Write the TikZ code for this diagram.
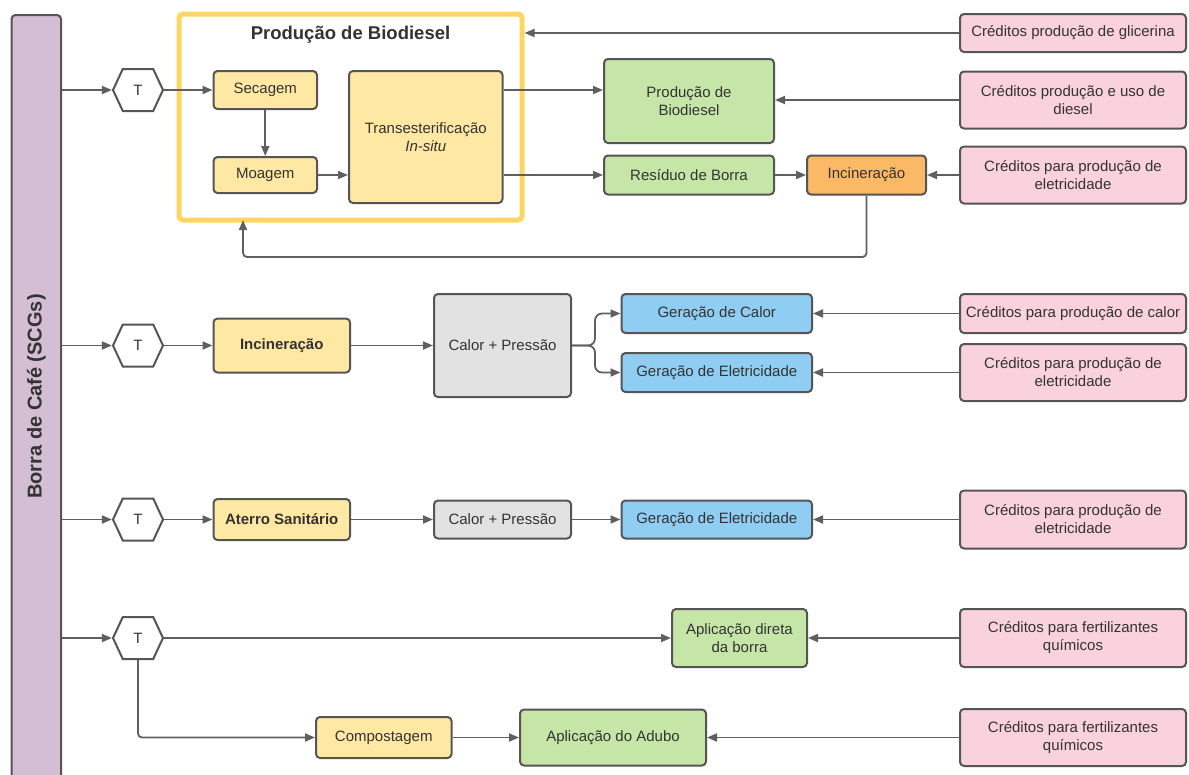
\documentclass[tikz,border=0pt]{standalone}
\usepackage{fontspec}
\setmainfont{Liberation Sans}
\usetikzlibrary{arrows.meta,shapes.symbols}
\definecolor{edgegray}{HTML}{555555}
\definecolor{linegray}{HTML}{5F5F5F}
\definecolor{txtgray}{HTML}{333333}
\definecolor{barpurple}{HTML}{D3BED3}
\definecolor{boxyellow}{HTML}{FFE8A3}
\definecolor{frameyellow}{HTML}{FDD662}
\definecolor{boxgreen}{HTML}{C6E6A8}
\definecolor{boxblue}{HTML}{8FCDF2}
\definecolor{boxgray}{HTML}{E2E2E2}
\definecolor{boxpink}{HTML}{F9D2DD}
\definecolor{boxorange}{HTML}{FBB865}
\begin{document}
\begin{tikzpicture}[x=1pt,y=-1pt,
  box/.style={draw=edgegray, line width=2pt, rounded corners=4pt, inner sep=0pt, align=center, text=txtgray, font=\fontsize{15}{18}\selectfont},
  ylw/.style={box, fill=boxyellow},
  grn/.style={box, fill=boxgreen},
  blu/.style={box, fill=boxblue},
  gry/.style={box, fill=boxgray},
  org/.style={box, fill=boxorange},
  pnk/.style={box, fill=boxpink, minimum width=226pt},
  hexa/.style={signal, signal to=east and west, signal pointer angle=130, draw=edgegray, line width=2pt, fill=white, minimum width=50pt, minimum height=42pt, inner sep=0pt, text=txtgray, font=\fontsize{15}{18}\selectfont},
  arr/.style={-{Triangle[length=10pt,width=8pt]}, draw=linegray, line width=1.8pt}]
\useasboundingbox (0,0) rectangle (1189,774);
\clip (0,0) rectangle (1189,774);
\node[draw=edgegray, line width=2pt, fill=barpurple, rounded corners=4pt, minimum width=49.5pt, minimum height=775pt] (bar) at (36.25,402.5){};
\node[rotate=90, text=txtgray, font=\fontsize{20}{24}\selectfont\bfseries] (barlbl) at (36.25,396.5){Borra de Café (SCGs)};

\node[draw=frameyellow, line width=5pt, fill=white, rounded corners=4pt, minimum width=343pt, minimum height=206pt] (frame) at (350.5,117){};
\node[text=txtgray, font=\fontsize{18.5}{22}\selectfont\bfseries] (frametitle) at (350.5,35){Produção de Biodiesel};
\node[hexa] (t1) at (138,90){T};
\draw[arr] (bar.east |- t1) -- (t1.west);
\node[ylw, minimum width=103.5pt, minimum height=38pt] (sec) at (265.25,90){Secagem};
\draw[arr] (t1.east) -- (sec.west);
\node[ylw, minimum width=103.5pt, minimum height=36pt] (moa) at (265.25,175){Moagem};
\draw[arr] (sec.south) -- (moa.north);
\node[ylw, minimum width=153.5pt, minimum height=132pt] (trans) at (425.75,137){Transesterificação\\\textit{In-situ}};
\draw[arr] (moa.east) -- (trans.west |- moa);
\node[grn, minimum width=170pt, minimum height=84pt] (prodbio) at (689,101){Produção de\\Biodiesel};
\draw[arr] (trans.east |- sec) -- (prodbio.west |- sec);
\node[grn, minimum width=170pt, minimum height=39pt] (residuo) at (689,175){Resíduo de Borra};
\draw[arr] (trans.east |- moa) -- (residuo.west);
\node[org, minimum width=119pt, minimum height=39pt] (inc1) at (866.5,175){Incineração};
\draw[arr] (residuo.east) -- (inc1.west);
\coordinate (fb) at (243,220);
\draw[arr, rounded corners=4pt] (inc1.south) -- (inc1.south |- 0,257) -| (fb);
\node[pnk, minimum height=38pt] (cred1) at (1073,33){Créditos produção de glicerina};
\draw[arr] (cred1.west) -- (frame.east |- cred1);
\node[pnk, minimum height=57pt] (cred2) at (1073,100){Créditos produção e uso de\\diesel};
\draw[arr] (cred2.west) -- (prodbio.east |- cred2);
\node[pnk, minimum height=57pt] (cred3) at (1073,175){Créditos para produção de\\eletricidade};
\draw[arr] (cred3.west) -- (inc1.east);

\node[hexa] (t2) at (138,345.5){T};
\draw[arr] (bar.east |- t2) -- (t2.west);
\node[ylw, minimum width=136.5pt, minimum height=54pt, font=\fontsize{15}{18}\selectfont\bfseries] (inc2) at (281.75,345.5){Incineração};
\draw[arr] (t2.east) -- (inc2.west);
\node[gry, minimum width=137pt, minimum height=103pt] (calor1) at (502.5,345.5){Calor + Pressão};
\draw[arr] (inc2.east) -- (calor1.west);
\node[blu, minimum width=190.5pt, minimum height=39pt] (gcal) at (716.75,313.5){Geração de Calor};
\node[blu, minimum width=190.5pt, minimum height=39pt] (gele2) at (716.75,372.5){Geração de Eletricidade};
\coordinate (br) at (595,345.5);
\draw[arr, rounded corners=7pt] (calor1.east) -- (br) |- (gcal.west);
\draw[arr, rounded corners=7pt] (calor1.east) -- (br) |- (gele2.west);
\node[pnk, minimum height=39pt] (cred4) at (1073,313.5){Créditos para produção de calor};
\draw[arr] (cred4.west) -- (gcal.east);
\node[pnk, minimum height=57pt] (cred5) at (1073,372.5){Créditos para produção de\\eletricidade};
\draw[arr] (cred5.west) -- (gele2.east);

\node[hexa] (t3) at (138,519.5){T};
\draw[arr] (bar.east |- t3) -- (t3.west);
\node[ylw, minimum width=136.5pt, minimum height=41pt, font=\fontsize{15}{18}\selectfont\bfseries] (aterro) at (281.75,519.5){Aterro Sanitário};
\draw[arr] (t3.east) -- (aterro.west);
\node[gry, minimum width=137pt, minimum height=38pt] (calor2) at (502.5,519.5){Calor + Pressão};
\draw[arr] (aterro.east) -- (calor2.west);
\node[blu, minimum width=190.5pt, minimum height=38pt] (gele3) at (716.75,519.5){Geração de Eletricidade};
\draw[arr] (calor2.east) -- (gele3.west);
\node[pnk, minimum height=58pt] (cred6) at (1073,519.5){Créditos para produção de\\eletricidade};
\draw[arr] (cred6.west) -- (gele3.east);

\node[hexa] (t4) at (138,638){T};
\draw[arr] (bar.east |- t4) -- (t4.west);
\node[grn, minimum width=135pt, minimum height=58pt] (aplic) at (739.5,638){Aplicação direta\\da borra};
\draw[arr] (t4.east) -- (aplic.west);
\node[pnk, minimum height=58pt] (cred7) at (1073,638){Créditos para fertilizantes\\químicos};
\draw[arr] (cred7.west) -- (aplic.east);
\node[ylw, minimum width=135.5pt, minimum height=41pt] (compost) at (383.75,737.5){Compostagem};
\draw[arr, rounded corners=4pt] (t4.south) |- (compost.west);
\node[grn, minimum width=186pt, minimum height=56pt] (adubo) at (613,737.5){Aplicação do Adubo};
\draw[arr] (compost.east) -- (adubo.west);
\node[pnk, minimum height=57pt] (cred8) at (1073,737.5){Créditos para fertilizantes\\químicos};
\draw[arr] (cred8.west) -- (adubo.east);

\end{tikzpicture}
\end{document}
